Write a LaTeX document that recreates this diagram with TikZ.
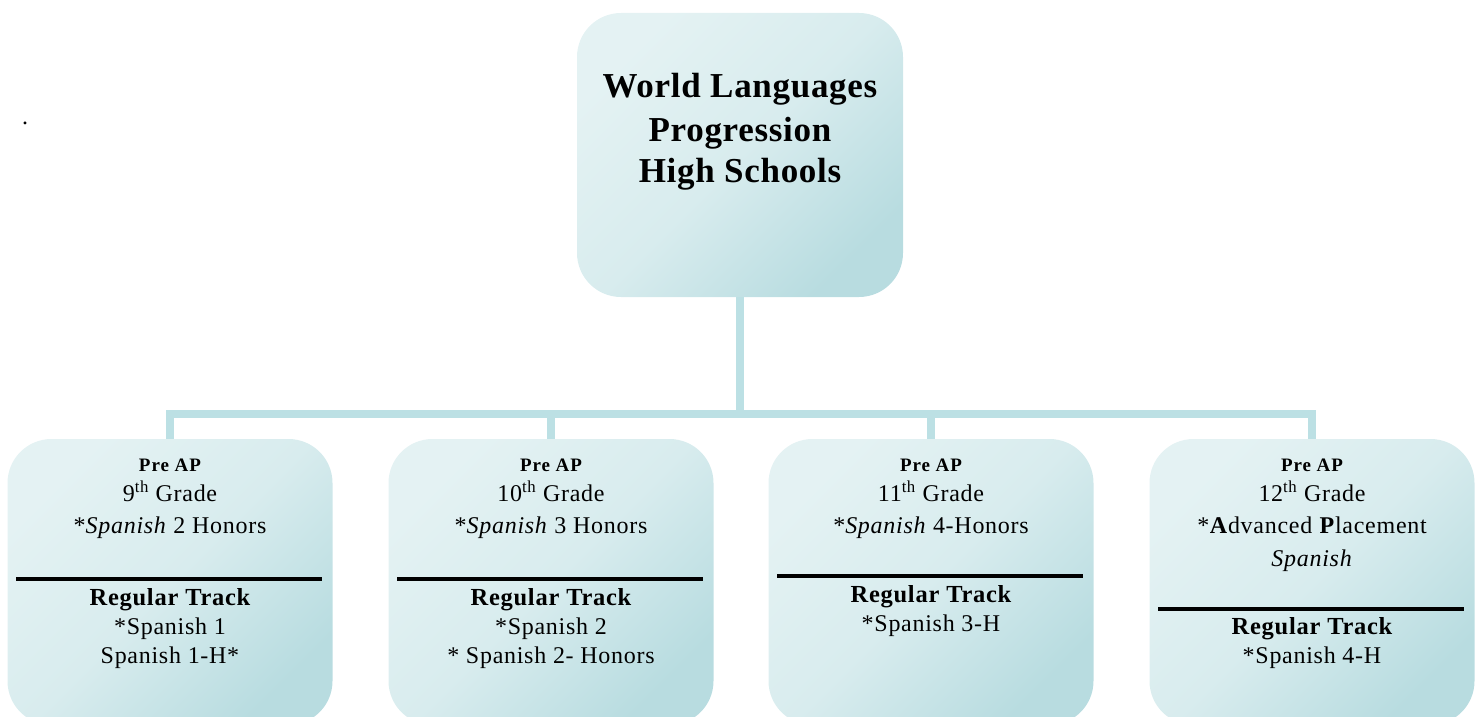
\documentclass[tikz,border=0pt]{standalone}
\usepackage{fontspec}
\setmainfont{Liberation Serif}

\definecolor{boxlight}{HTML}{E4F2F3}
\definecolor{boxmid}{HTML}{D8ECEE}
\definecolor{boxdark}{HTML}{B8DCE0}
\definecolor{linkblue}{HTML}{BCE0E4}

\newcommand\gradefont{\fontsize{24}{30}\selectfont\addfontfeature{LetterSpace=3}}
\newcommand\preapfont{\bfseries\fontsize{19}{22}\selectfont\addfontfeature{LetterSpace=5}}
\newcommand\trackfont{\bfseries\fontsize{24.5}{30}\selectfont\addfontfeature{LetterSpace=3}}
\newcommand\headfont{\bfseries\fontsize{35}{42}\selectfont\addfontfeature{LetterSpace=2}}

\tikzset{
  card/.style={draw=none, rounded corners=44pt, minimum width=325pt,
    minimum height=286pt, inner sep=0pt,
    top color=boxlight, bottom color=boxdark, middle color=boxmid,
    shading angle=45},
  link/.style={draw=linkblue, line width=8pt},
  rule/.style={line width=3.5pt, black},
  txt/.style={anchor=base, inner sep=0pt, font=\gradefont},
  pre/.style={txt, font=\preapfont},
  trk/.style={txt, font=\trackfont},
  head/.style={txt, font=\headfont},
}

\begin{document}
\begin{tikzpicture}[x=1pt, y=-1pt]
  \useasboundingbox (0,0) rectangle (1481,717);
  \clip (0,0) rectangle (1481,717);

  % title card
  \node[card, minimum width=326pt, minimum height=284pt] (top) at (740,155) {};
  \node[head] (t1) at (740,97) {World Languages};
  \node[head] (t2) at (740,141.5) {Progression};
  \node[head] (t3) at (740,182) {High Schools};

  % grade cards
  \node[card] (b1) at (170,582) {};
  \node[card] (b2) at (551,582) {};
  \node[card] (b3) at (931,582) {};
  \node[card] (b4) at (1312,582) {};

  % connectors
  \coordinate (hub) at (740,413.5);
  \draw[link] (top.south) -- (hub);
  \draw[link] (b1.north) |- (hub) -| (b4.north);
  \draw[link] (b2.north) -- (b2.north |- hub);
  \draw[link] (b3.north) -- (b3.north |- hub);

  % stray mark
  \node[txt] (dot) at (25,124) {.};

  % 9th grade
  \node[pre] (p1) at (170,471) {Pre AP};
  \node[txt] (g1) at (170,501.5) {9\textsuperscript{th} Grade};
  \node[txt] (h1) at (170,533) {*\textit{Spanish} 2 Honors};
  \draw[rule] (16,579) -- (322,579);
  \node[trk] (r1) at (170,605) {Regular Track};
  \node[txt] (c1a) at (170,634) {*Spanish 1};
  \node[txt] (c1b) at (170,663) {Spanish 1-H*};

  % 10th grade
  \node[pre] (p2) at (551,471) {Pre AP};
  \node[txt] (g2) at (551,501.5) {10\textsuperscript{th} Grade};
  \node[txt] (h2) at (551,533) {*\textit{Spanish} 3 Honors};
  \draw[rule] (397,579) -- (703,579);
  \node[trk] (r2) at (551,605) {Regular Track};
  \node[txt] (c2a) at (551,634) {*Spanish 2};
  \node[txt] (c2b) at (551,663) {* Spanish 2- Honors};

  % 11th grade
  \node[pre] (p3) at (931,471) {Pre AP};
  \node[txt] (g3) at (931,501.5) {11\textsuperscript{th} Grade};
  \node[txt] (h3) at (931,533) {*\textit{Spanish} 4-Honors};
  \draw[rule] (777,576) -- (1083,576);
  \node[trk] (r3) at (931,602) {Regular Track};
  \node[txt] (c3a) at (931,631) {*Spanish 3-H};

  % 12th grade
  \node[pre] (p4) at (1312,471) {Pre AP};
  \node[txt] (g4) at (1312,501.5) {12\textsuperscript{th} Grade};
  \node[txt] (h4) at (1312,533) {*\textbf{A}dvanced \textbf{P}lacement};
  \node[txt] (s4) at (1312,566.5) {\textit{Spanish}};
  \draw[rule] (1158,609) -- (1464,609);
  \node[trk] (r4) at (1312,634) {Regular Track};
  \node[txt] (c4a) at (1312,663) {*Spanish 4-H};
\end{tikzpicture}
\end{document}
